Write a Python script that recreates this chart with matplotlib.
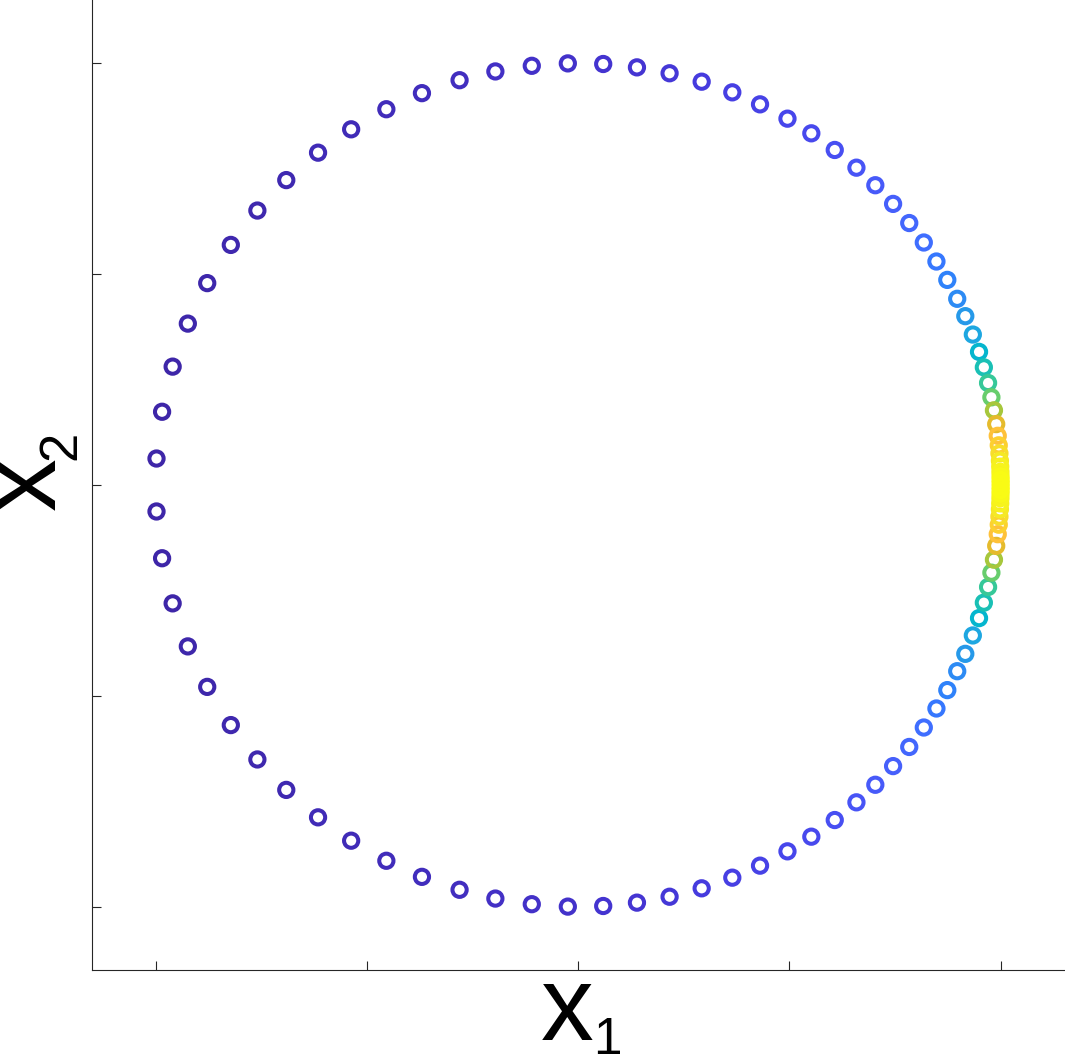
import numpy as np
import matplotlib
matplotlib.use("Agg")
import matplotlib.pyplot as plt
from matplotlib.colors import LinearSegmentedColormap

# ---- data: angle of each point on the unit circle (degrees) and its colour value ----
theta_upper = [176.4, 170.0, 163.7, 157.5, 151.4, 145.3, 139.4, 133.7, 128.0, 122.5,
               117.0, 111.7, 106.3, 101.3, 96.3, 91.4, 86.6, 82.0, 77.5, 73.0,
               68.6, 64.5, 60.3, 56.5, 52.6, 48.8, 45.3, 41.8, 38.4, 35.1,
               32.0, 29.1, 26.2, 23.6, 20.9, 18.4, 16.2, 14.0, 12.0, 10.2,
               8.3, 6.7, 5.4, 4.3, 3.3, 2.5, 1.8, 1.2, 0.7, 0.25]
theta_lower = [-176.4, -170.0, -163.7, -157.5, -151.4, -145.3, -139.4, -133.7, -128.0, -122.5,
               -117.0, -111.7, -106.3, -101.3, -96.3, -91.4, -86.6, -82.0, -77.5, -73.0,
               -68.6, -64.5, -60.3, -56.5, -52.6, -48.8, -45.3, -41.8, -38.4, -35.1,
               -32.0, -29.1, -26.2, -23.6, -20.9, -18.4, -16.2, -14.0, -12.0, -10.2,
               -8.3, -6.7, -5.4, -4.3, -3.3, -2.5, -1.8, -1.2, -0.7, -0.25]
c_upper = [0.00, 0.00, 0.00, 0.005, 0.005, 0.01, 0.01, 0.015, 0.02, 0.02,
           0.025, 0.03, 0.035, 0.04, 0.045, 0.05, 0.055, 0.06, 0.07, 0.08,
           0.09, 0.10, 0.11, 0.12, 0.135, 0.15, 0.165, 0.18, 0.20, 0.22,
           0.245, 0.27, 0.30, 0.34, 0.39, 0.45, 0.51, 0.57, 0.64, 0.71,
           0.79, 0.85, 0.89, 0.92, 0.95, 0.97, 0.98, 0.99, 1.00, 1.00]
c_lower = [0.00, 0.00, 0.00, 0.005, 0.005, 0.01, 0.01, 0.015, 0.02, 0.02,
           0.025, 0.03, 0.035, 0.04, 0.045, 0.05, 0.055, 0.06, 0.07, 0.08,
           0.09, 0.10, 0.11, 0.12, 0.135, 0.15, 0.165, 0.18, 0.20, 0.22,
           0.245, 0.27, 0.30, 0.34, 0.39, 0.45, 0.51, 0.57, 0.64, 0.71,
           0.79, 0.85, 0.89, 0.92, 0.95, 0.97, 0.98, 0.99, 1.00, 1.00]
tick_values = [-1.0, -0.5, 0.0, 0.5, 1.0]
xlabel_main, xlabel_sub = "x", "1"
ylabel_main, ylabel_sub = "x", "2"

# ---- parula-like colormap ----
_parula = [
    [0.2422, 0.1504, 0.6603], [0.2504, 0.1650, 0.7076], [0.2578, 0.1818, 0.7511],
    [0.2647, 0.1978, 0.7952], [0.2706, 0.2147, 0.8364], [0.2751, 0.2342, 0.8710],
    [0.2783, 0.2559, 0.8991], [0.2803, 0.2782, 0.9221], [0.2813, 0.3006, 0.9414],
    [0.2810, 0.3228, 0.9579], [0.2795, 0.3447, 0.9717], [0.2760, 0.3667, 0.9829],
    [0.2699, 0.3892, 0.9906], [0.2602, 0.4123, 0.9952], [0.2440, 0.4358, 0.9988],
    [0.2206, 0.4603, 0.9973], [0.1963, 0.4847, 0.9892], [0.1834, 0.5074, 0.9798],
    [0.1786, 0.5289, 0.9682], [0.1764, 0.5499, 0.9520], [0.1687, 0.5703, 0.9359],
    [0.1540, 0.5902, 0.9218], [0.1460, 0.6091, 0.9079], [0.1380, 0.6276, 0.8973],
    [0.1248, 0.6459, 0.8883], [0.1113, 0.6635, 0.8763], [0.0952, 0.6798, 0.8598],
    [0.0689, 0.6948, 0.8394], [0.0297, 0.7082, 0.8163], [0.0036, 0.7203, 0.7917],
    [0.0067, 0.7312, 0.7660], [0.0433, 0.7411, 0.7394], [0.0964, 0.7500, 0.7120],
    [0.1408, 0.7584, 0.6842], [0.1717, 0.7670, 0.6554], [0.1938, 0.7758, 0.6251],
    [0.2161, 0.7843, 0.5923], [0.2470, 0.7918, 0.5567], [0.2906, 0.7973, 0.5188],
    [0.3406, 0.8008, 0.4789], [0.3909, 0.8029, 0.4354], [0.4456, 0.8024, 0.3909],
    [0.5044, 0.7993, 0.3480], [0.5616, 0.7942, 0.3045], [0.6174, 0.7876, 0.2612],
    [0.6720, 0.7793, 0.2227], [0.7242, 0.7698, 0.1910], [0.7738, 0.7598, 0.1646],
    [0.8203, 0.7498, 0.1535], [0.8634, 0.7406, 0.1596], [0.9035, 0.7330, 0.1774],
    [0.9393, 0.7288, 0.2100], [0.9728, 0.7298, 0.2394], [0.9956, 0.7434, 0.2371],
    [0.9970, 0.7659, 0.2199], [0.9952, 0.7893, 0.2028], [0.9892, 0.8136, 0.1885],
    [0.9786, 0.8386, 0.1766], [0.9676, 0.8639, 0.1643], [0.9610, 0.8890, 0.1537],
    [0.9597, 0.9135, 0.1423], [0.9628, 0.9373, 0.1265], [0.9691, 0.9606, 0.1064],
    [0.9769, 0.9839, 0.0805]]
parula = LinearSegmentedColormap.from_list("parula", _parula)

# ---- assemble ----
theta = np.deg2rad(np.array(theta_upper + theta_lower))
cval = np.array(c_upper + c_lower)
x1 = np.cos(theta)
x2 = np.sin(theta)
order = np.argsort(cval, kind="stable")

plt.rcParams['font.family'] = ['Liberation Sans', 'DejaVu Sans']

W, H = 1065, 1055
fig = plt.figure(figsize=(W / 100, H / 100), dpi=100)
ax = fig.add_axes([92.3 / W, (H - 970) / H, (1064 - 92.3) / W, 970 / H])

ax.scatter(x1[order], x2[order], s=105, facecolors='none',
           edgecolors=parula(cval[order]), linewidths=2.9, zorder=3)

ax.set_xlim(-1.15, 1.15)
ax.set_ylim(-1.15, 1.15)
ax.set_xticks(tick_values)
ax.set_yticks(tick_values)
ax.set_xticklabels([])
ax.set_yticklabels([])
axcol = (0.15, 0.15, 0.15)
ax.tick_params(direction='in', length=6.5, width=0.8, color=axcol)
for side in ['top', 'right']:
    ax.spines[side].set_visible(False)
for side in ['left', 'bottom']:
    ax.spines[side].set_color(axcol)
    ax.spines[side].set_linewidth(0.8)

# axis labels (main letter + subscript placed like the reference)
fig.text(567.5 / W, (H - 1040) / H, xlabel_main, fontsize=76, ha='center',
         va='baseline', color='black')
fig.text(593 / W, (H - 1054) / H, xlabel_sub, fontsize=37, ha='left',
         va='baseline', color='black')
fig.text(55 / W, (H - 484) / H, ylabel_main, fontsize=76, ha='center',
         va='baseline', rotation=90, rotation_mode='anchor', color='black')
fig.text(75 / W, (H - 460) / H, ylabel_sub, fontsize=38, ha='left',
         va='baseline', rotation=90, rotation_mode='anchor', color='black')

fig.savefig("out.png", dpi=100)
